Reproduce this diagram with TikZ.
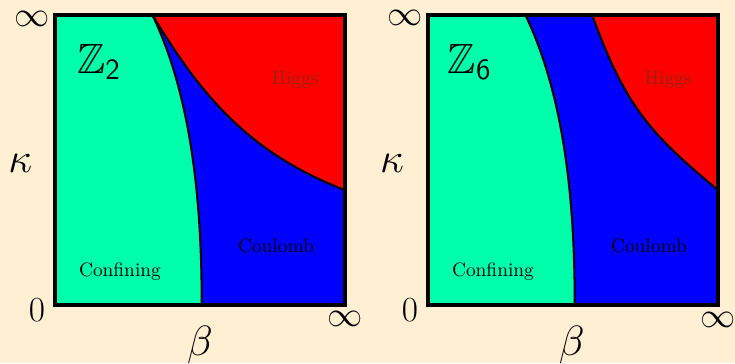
\documentclass[tikz,border=0pt]{standalone}
\usepackage{amsmath}
\usepackage{amssymb}
\usepackage{tikz}
\usetikzlibrary{
  calc,       % 坐标计算
  positioning % 节点相对定位
}

\definecolor{creambg}{RGB}{255,240,212}
\definecolor{confgreen}{RGB}{0,255,170}
\definecolor{higgsred}{RGB}{150,35,20}

\begin{document}
\begin{tikzpicture}[x=1cm, y=1cm,
  frame/.style={line width=1.8pt, black},
  border/.style={line width=1pt, black},
  axislab/.style={inner sep=0pt, font=\LARGE},
  varlab/.style={inner sep=0pt, font=\huge},
  phaselab/.style={inner sep=0pt, font=\fontsize{9.5}{11}\selectfont}]

  % 背景
  \fill[creambg] (-0.948,-1.0) rectangle (11.724,5.259);
  \useasboundingbox (-0.948,-1.0) rectangle (11.724,5.259);

  % =============== 图 1: Z_2 ===============
  \begin{scope}[shift={(0,0)}]
    \fill[blue] (0,0) rectangle (5,5);
    % Higgs 区
    \fill[red] (1.68,5) -- (5,5) -- (5,1.98)
      .. controls (3.32,2.63) and (2.51,3.63) .. (1.68,5);
    % Confining 区
    \fill[confgreen] (0,0) -- (2.53,0)
      .. controls (2.53,1.8) and (2.35,3.6) .. (1.68,5) -- (0,5) -- cycle;
    % 相边界
    \draw[border] (2.53,0) .. controls (2.53,1.8) and (2.35,3.6) .. (1.68,5);
    \draw[border] (5,1.98) .. controls (3.32,2.63) and (2.51,3.63) .. (1.68,5);
    \draw[frame] (0,0) rectangle (5,5);

    \node[varlab] (lgrp) at (0.76,4.19) {$\mathbb{Z}_{\mathsf{2}}$};
    \node[phaselab, text=higgsred] (lhiggs) at (4.14,3.88) {Higgs};
    \node[phaselab] (lcoul) at (3.81,1.02) {Coulomb};
    \node[phaselab] (lconf) at (1.12,0.57) {Confining};

    \node[axislab] (linfk) at (-0.40,4.94) {$\infty$};
    \node[varlab] (lkappa) at (-0.60,2.45) {$\kappa$};
    \node[axislab] (lzero) at (-0.31,-0.09) {$0$};
    \node[axislab] (linfb) at (5.0,-0.24) {$\infty$};
    \node[varlab] (lbeta) at (2.5,-0.69) {$\beta$};
  \end{scope}

  % =============== 图 2: Z_6 ===============
  \begin{scope}[shift={(6.431,0)}]
    \fill[blue] (0,0) rectangle (5,5);
    % Higgs 区
    \fill[red] (2.83,5) -- (5,5) -- (5,1.98)
      .. controls (3.85,2.94) and (3.41,3.40) .. (2.83,5);
    % Confining 区
    \fill[confgreen] (0,0) -- (2.53,0)
      .. controls (2.53,1.8) and (2.35,3.6) .. (1.68,5) -- (0,5) -- cycle;
    % 相边界
    \draw[border] (2.53,0) .. controls (2.53,1.8) and (2.35,3.6) .. (1.68,5);
    \draw[border] (5,1.98) .. controls (3.85,2.94) and (3.41,3.40) .. (2.83,5);
    \draw[frame] (0,0) rectangle (5,5);

    \node[varlab] (rgrp) at (0.72,4.19) {$\mathbb{Z}_{\mathsf{6}}$};
    \node[phaselab, text=higgsred] (rhiggs) at (4.14,3.88) {Higgs};
    \node[phaselab] (rcoul) at (3.81,1.02) {Coulomb};
    \node[phaselab] (rconf) at (1.12,0.57) {Confining};

    \node[axislab] (rinfk) at (-0.40,4.95) {$\infty$};
    \node[varlab] (rkappa) at (-0.62,2.45) {$\kappa$};
    \node[axislab] (rzero) at (-0.31,-0.09) {$0$};
    \node[axislab] (rinfb) at (5.0,-0.26) {$\infty$};
    \node[varlab] (rbeta) at (2.48,-0.69) {$\beta$};
  \end{scope}

\end{tikzpicture}
\end{document}
